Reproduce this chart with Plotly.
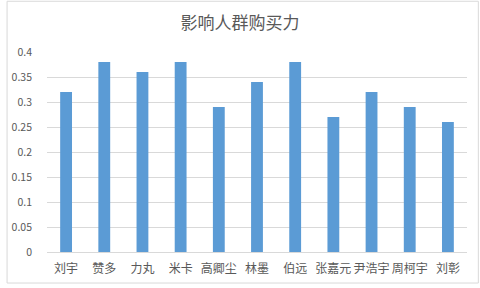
import plotly.graph_objects as go

categories = ["刘宇", "赞多", "力丸", "米卡", "高卿尘", "林墨", "伯远", "张嘉元", "尹浩宇", "周柯宇", "刘彰"]
values = [0.32, 0.38, 0.36, 0.38, 0.29, 0.34, 0.38, 0.27, 0.32, 0.29, 0.26]
tick_vals = [0, 0.05, 0.1, 0.15, 0.2, 0.25, 0.3, 0.35, 0.4]
tick_text = ["0", "0.05", "0.1", "0.15", "0.2", "0.25", "0.3", "0.35", "0.4"]

W, H = 480, 288
ml, mr, mt, mb = 41, 13, 52, 33
pw, ph = W - ml - mr, H - mt - mb

fig = go.Figure(go.Bar(x=categories, y=values, marker=dict(color="#5B9BD5", line=dict(width=0))))

fig.update_layout(
    width=W, height=H,
    margin=dict(l=ml, r=mr, t=mt, b=mb),
    paper_bgcolor="white", plot_bgcolor="white",
    font=dict(family="Noto Sans CJK SC", color="#595959", size=11),
    title=dict(text="影响人群购买力", x=0.5, xanchor="center", y=1 - 23 / H, yanchor="middle",
               font=dict(size=17, color="#595959")),
    bargap=0.69,
    showlegend=False,
    xaxis=dict(showgrid=False, showline=True, linecolor="#D9D9D9", linewidth=1, ticks="",
               tickfont=dict(size=12, color="#595959"), ticklabelstandoff=6),
    yaxis=dict(range=[0, 0.4], tickvals=tick_vals, ticktext=tick_text, showgrid=True,
               gridcolor="#D9D9D9", gridwidth=1, zeroline=False, showline=False, ticks="",
               tickfont=dict(size=10.5, color="#595959"), ticklabelstandoff=14),
    shapes=[dict(type="rect", xref="paper", yref="paper",
                 x0=-(ml - 0.5) / pw, x1=1 + (mr - 1.5) / pw,
                 y0=-(mb - 1.5) / ph, y1=1 + (mt - 0.5) / ph,
                 line=dict(color="#D9D9D9", width=1), layer="below")],
)

fig.write_html("out.html")
